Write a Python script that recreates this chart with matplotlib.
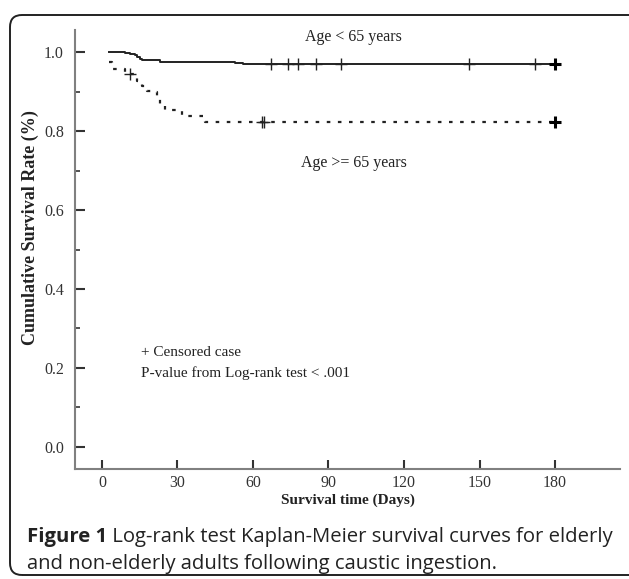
import matplotlib
matplotlib.use("Agg")
import matplotlib.pyplot as plt
from matplotlib.patches import FancyBboxPatch
from matplotlib.transforms import IdentityTransform

# Kaplan-Meier steps
young_t = [3, 9, 11, 13, 14, 15, 16, 23, 53, 56, 180]
young_s = [1.0, 0.997, 0.995, 0.992, 0.988, 0.984, 0.980, 0.976, 0.973, 0.969, 0.969]
young_cens = [67, 74, 78, 85, 95, 146, 172]

old_t = [3, 4, 9, 14, 16, 18, 20, 22, 23, 25, 32, 41, 180]
old_s = [0.974, 0.958, 0.944, 0.927, 0.914, 0.901, 0.898, 0.883, 0.868, 0.853, 0.838, 0.824, 0.824]
old_cens = [11, 63.5, 64.5]
old_cens_s = [0.944, 0.824, 0.824]

end_day = 180
xticks = [0, 30, 60, 90, 120, 150, 180]
yticks = [0.0, 0.2, 0.4, 0.6, 0.8, 1.0]

serif = ['Liberation Serif', 'DejaVu Serif']
ink = '#222222'

fig = plt.figure(figsize=(6.29, 5.79), dpi=100)
ax = fig.add_axes([0.1192, 0.19, 0.8665, 0.758])

ax.step(young_t, young_s, where='post', color=ink, lw=1.4)
ax.step(old_t, old_s, where='post', color=ink, lw=1.6, linestyle=(0, (1.6, 3.4)))

# censored marks
ax.plot(young_cens, [young_s[-1]] * len(young_cens), '+', color=ink, ms=8, mew=1.0)
ax.plot(old_cens, old_cens_s, '+', color=ink, ms=8, mew=1.0)
ax.plot([end_day, end_day], [young_s[-1], old_s[-1]], '+', color='black', ms=9, mew=2.2)

ax.text(100, 1.038, 'Age < 65 years', ha='center', va='center', family=serif, fontsize=11.5, color=ink)
ax.text(100, 0.719, 'Age >= 65 years', ha='center', va='center', family=serif, fontsize=11.5, color=ink)
ax.text(15.5, 0.238, '+ Censored case', ha='left', va='center', family=serif, fontsize=11, color=ink)
ax.text(15.5, 0.188, 'P-value from Log-rank test < .001', ha='left', va='center', family=serif,
        fontsize=11, color=ink)

ax.set_xlim(-10.7, 205.8)
ax.set_ylim(-0.056, 1.056)
ax.set_xticks(xticks)
ax.set_yticks(yticks)
ax.set_yticks([0.1, 0.3, 0.5, 0.7, 0.9], minor=True)
ax.set_yticklabels(['%.1f' % v for v in yticks], family=serif, fontsize=11.5, color='#333333')
ax.set_xticklabels([str(v) for v in xticks], family=serif, fontsize=11.5, color='#333333')

ax.tick_params(axis='y', which='major', direction='in', length=7.2, width=1.5, pad=8, color='#333333')
ax.tick_params(axis='y', which='minor', direction='in', length=3.6, width=1.2, color='#333333')
ax.tick_params(axis='x', direction='in', length=6.5, width=1.5, pad=4, color='#333333')

for side in ['top', 'right']:
    ax.spines[side].set_visible(False)
for side in ['left', 'bottom']:
    ax.spines[side].set_color('#808080')
    ax.spines[side].set_linewidth(1.5)

ax.set_xlabel('Survival time (Days)', family=serif, fontsize=11, fontweight='bold', color=ink, labelpad=2)
ax.set_ylabel('Cumulative Survival Rate (%)', family=serif, fontsize=13, fontweight='bold', color=ink)
ax.yaxis.set_label_coords(-0.066, 0.55)

# rounded frame around figure + caption
frame = FancyBboxPatch((10, 4), 632, 560, boxstyle='round,pad=0,rounding_size=12',
                       transform=IdentityTransform(), fill=False, ec='#222222', lw=1.4)
fig.patches.append(frame)

sans = ['Open Sans', 'DejaVu Sans']
t1 = fig.text(27 / 629, 1 - 537 / 579, 'Figure 1', family=sans, fontweight='bold', fontsize=14.6,
              va='center', ha='left', color=ink)
ax.annotate(' Log-rank test Kaplan-Meier survival curves for elderly', xy=(1, 0), xycoords=t1,
            va='bottom', ha='left', family=sans, fontsize=14.6, color=ink, annotation_clip=False)
fig.text(27 / 629, 1 - 564 / 579, 'and non-elderly adults following caustic ingestion.', family=sans,
         fontsize=14.6, va='center', ha='left', color=ink)

fig.savefig('out.png', dpi=100)
